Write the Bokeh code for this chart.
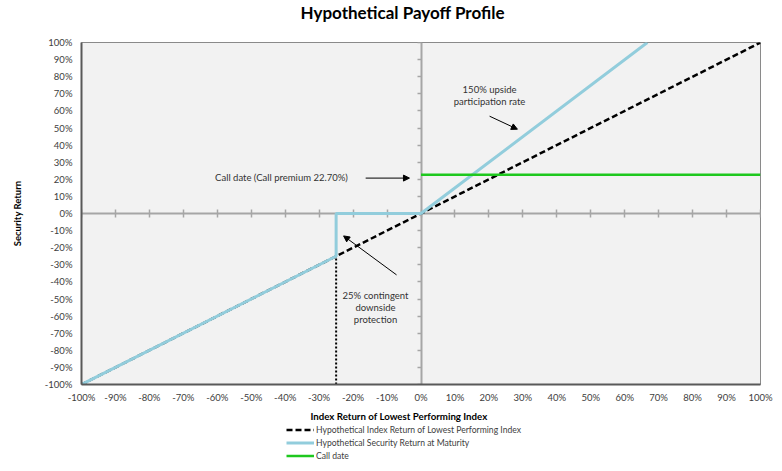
from bokeh.plotting import figure
from bokeh.layouts import column
from bokeh.models import (LinearAxis, FixedTicker, Range1d, Label, Arrow, NormalHead,
                          Legend, LegendItem, CustomJSTickFormatter)
from bokeh.embed import file_html
from bokeh.resources import INLINE

# ---- data ----
tick_values = [-1.0, -0.9, -0.8, -0.7, -0.6, -0.5, -0.4, -0.3, -0.2, -0.1, 0.0,
               0.1, 0.2, 0.3, 0.4, 0.5, 0.6, 0.7, 0.8, 0.9, 1.0]
tick_labels = ["-100%", "-90%", "-80%", "-70%", "-60%", "-50%", "-40%", "-30%", "-20%", "-10%", "0%",
               "10%", "20%", "30%", "40%", "50%", "60%", "70%", "80%", "90%", "100%"]

index_x = [-1.0, 1.0]
index_y = [-1.0, 1.0]

security_x = [-1.0, -0.25, -0.25, 0.0, 0.6667]
security_y = [-1.0, -0.25, 0.0, 0.0, 1.0]

call_x = [0.0, 1.0]
call_y = [0.227, 0.227]

barrier_x = [-0.25, -0.25]
barrier_y = [-1.0, -0.25]

FONT = "Lato"
TXT = "#404040"

IDX_STYLE = dict(line_color="black", line_width=2.5, line_dash="6 3")
SEC_STYLE = dict(line_color="#92cddc", line_width=3)
CALL_STYLE = dict(line_color="#1ec81e", line_width=2.5)

# ---- title strip ----
pt = figure(width=782, height=26, output_backend="svg", toolbar_location=None,
            x_axis_location=None, y_axis_location=None, min_border=0)
pt.outline_line_color = None
pt.grid.visible = False
pt.title.text = "Hypothetical Payoff Profile"
pt.title.align = "left"
pt.title.offset = 219
pt.title.standoff = 0
pt.title.vertical_align = "middle"
pt.title.text_font = FONT
pt.title.text_font_style = "bold"
pt.title.text_font_size = "17px"
pt.title.text_color = "black"

# ---- main chart ----
p = figure(width=782, height=379, output_backend="svg", toolbar_location=None,
           x_range=Range1d(-1, 1), y_range=Range1d(-1, 1),
           min_border_left=81, min_border_right=22, min_border_top=16, min_border_bottom=20)
p.background_fill_color = "#f2f2f2"
p.border_fill_color = "white"
p.outline_line_color = "#8a8a8a"
p.outline_line_width = 1
p.xgrid.visible = False
p.ygrid.visible = False

overrides = {v: l for v, l in zip(tick_values, tick_labels)}

for ax in (p.below[0], p.left[0]):
    ax.ticker = FixedTicker(ticks=tick_values)
    ax.major_label_overrides = overrides
    ax.major_tick_out = 0
    ax.major_tick_in = 0
    ax.minor_tick_out = 0
    ax.minor_tick_in = 0
    ax.axis_line_color = "#595959"
    ax.axis_line_width = 2
    ax.major_label_text_font = FONT
    ax.major_label_text_font_size = "9.5px"
    ax.major_label_text_color = TXT
    ax.axis_label_text_font = FONT
    ax.axis_label_text_font_style = "bold"
    ax.axis_label_text_color = "black"
p.below[0].major_label_standoff = 7
p.left[0].major_label_standoff = 9
p.left[0].axis_label = "Security Return"
p.left[0].axis_label_text_font_size = "9.5px"
p.left[0].axis_label_standoff = 19

blank = CustomJSTickFormatter(code="return ''")

hax = LinearAxis(fixed_location=0, ticker=FixedTicker(ticks=tick_values), formatter=blank,
                 major_tick_in=4, major_tick_out=4, minor_tick_in=0, minor_tick_out=0,
                 axis_line_color="#a6a6a6", axis_line_width=2,
                 major_tick_line_color="#a6a6a6", major_tick_line_width=1.5,
                 major_label_standoff=0, level="underlay")
p.add_layout(hax, "above")
vax = LinearAxis(fixed_location=0, ticker=FixedTicker(ticks=tick_values), formatter=blank,
                 major_tick_in=4, major_tick_out=0, minor_tick_in=0, minor_tick_out=0,
                 axis_line_color="#a6a6a6", axis_line_width=2,
                 major_tick_line_color="#a6a6a6", major_tick_line_width=1.5,
                 major_label_standoff=0, level="underlay")
p.add_layout(vax, "right")

p.line(barrier_x, barrier_y, line_color="black", line_width=2, line_dash="2 2")
p.line(index_x, index_y, **IDX_STYLE)
p.line(security_x, security_y, **SEC_STYLE)
p.line(call_x, call_y, **CALL_STYLE)

ann_style = dict(text_font=FONT, text_font_size="9.5px", text_color="#333333",
                 text_align="center", text_baseline="middle", text_line_height=1.1)
p.add_layout(Label(x=-0.411, y=0.213, text="Call date (Call premium 22.70%)", **ann_style))
p.add_layout(Label(x=0.202, y=0.691, text="150% upside\nparticipation rate", **ann_style))
p.add_layout(Label(x=-0.134, y=-0.551, text="25% contingent\ndownside\nprotection", **ann_style))

def arrow(x0, y0, x1, y1):
    p.add_layout(Arrow(end=NormalHead(size=6, fill_color="black", line_color="black"),
                       x_start=x0, y_start=y0, x_end=x1, y_end=y1,
                       line_color="black", line_width=1))

arrow(-0.163, 0.207, -0.034, 0.207)
arrow(0.202, 0.569, 0.284, 0.493)
arrow(-0.072, -0.359, -0.228, -0.131)

# ---- x-axis title and legend strip ----
pl = figure(width=782, height=66, output_backend="svg", toolbar_location=None,
            x_axis_location=None, y_axis_location=None, min_border=0,
            x_range=Range1d(2, 3), y_range=Range1d(2, 3))
pl.outline_line_color = None
pl.grid.visible = False
pl.title.text = "Index Return of Lowest Performing Index"
pl.title.align = "left"
pl.title.offset = 229
pl.title.standoff = 4
pl.title.text_font = FONT
pl.title.text_font_style = "bold"
pl.title.text_font_size = "9.7px"
pl.title.text_color = "black"

l_idx = pl.line(index_x, index_y, **IDX_STYLE)
l_sec = pl.line(security_x, security_y, **SEC_STYLE)
l_call = pl.line(call_x, call_y, **CALL_STYLE)

legend = Legend(items=[
    LegendItem(label="Hypothetical Index Return of Lowest Performing Index", renderers=[l_idx]),
    LegendItem(label="Hypothetical Security Return at Maturity", renderers=[l_sec]),
    LegendItem(label="Call date", renderers=[l_call]),
], location=(205, 9), orientation="vertical", glyph_width=28, glyph_height=13,
    label_height=13, spacing=0, padding=0, margin=0, label_standoff=2,
    border_line_color=None, background_fill_alpha=0,
    label_text_font=FONT, label_text_font_size="8.6px", label_text_color=TXT)
pl.add_layout(legend, "center")

layout = column(pt, p, pl, spacing=0)
open("out.html", "w").write(file_html(layout, INLINE))
